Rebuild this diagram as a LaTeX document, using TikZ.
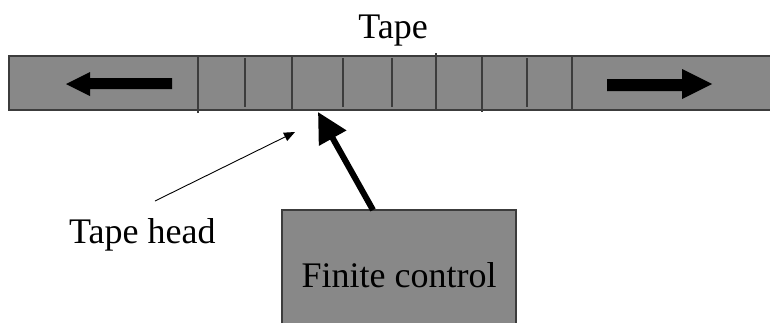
\documentclass[tikz,border=0pt]{standalone}
\usepackage{fontspec}
\setmainfont{Liberation Serif}
\usetikzlibrary{arrows.meta}
\definecolor{tapegray}{RGB}{136,136,136}
\definecolor{edgegray}{RGB}{60,60,60}
\tikzset{
  lbl/.style={font=\fontsize{36}{40}\selectfont, inner sep=0pt, text=black},
  cell/.style={draw=edgegray, line width=1.2pt},
  bigarrow/.style={fill=black, draw=none},
  thinptr/.style={draw=black, line width=0.9pt, -{Triangle[length=11pt,width=9pt]}},
  thickptr/.style={draw=black, line width=6pt, -{Triangle[length=30pt,width=30pt]}}
}
\begin{document}
\begin{tikzpicture}[x=1pt,y=-1pt]
\useasboundingbox (0,0) rectangle (770,333);
% tape
\fill[tapegray] (9,56) rectangle (772,110);
\draw[edgegray, line width=1.5pt] (772,56) -- (9,56) -- (9,110) -- (772,110);
% cell lines
\foreach \x in {198,292,436,482,572} \draw[cell] (\x,55) -- (\x,111);
\draw[cell] (198,110) -- (198,113);
\draw[cell] (436,53) -- (436,56);
\draw[cell] (482,110) -- (482,112);
\foreach \x in {245,343,392,527} \draw[cell] (\x,58) -- (\x,107);
% direction arrows
\fill[bigarrow] (172,78) -- (90,78) -- (90,72) -- (66,84) -- (90,96) -- (90,89) -- (172,89) -- cycle;
\fill[bigarrow] (607,79) -- (682,79) -- (682,69) -- (712,84) -- (682,99) -- (682,91) -- (607,91) -- cycle;
% labels
\node[lbl, anchor=base] (tape) at (393,38) {Tape};
\node[lbl, anchor=base west] (headlbl) at (69,243) {Tape head};
% finite control box
\fill[tapegray] (282,210) rectangle (516,323);
\draw[edgegray, line width=1.2pt] (282,323) -- (282,210) -- (516,210) -- (516,323);
\coordinate (boxtop) at (373,210);
\node[lbl, anchor=base] (fc) at (399,287) {Finite control};
% pointers
\coordinate (thinstart) at (155,201);
\coordinate (thinend) at (295,132);
\coordinate (headpos) at (318,112);
\draw[thinptr] (thinstart) -- (thinend);
\draw[thickptr] (boxtop) -- (headpos);
\end{tikzpicture}
\end{document}
